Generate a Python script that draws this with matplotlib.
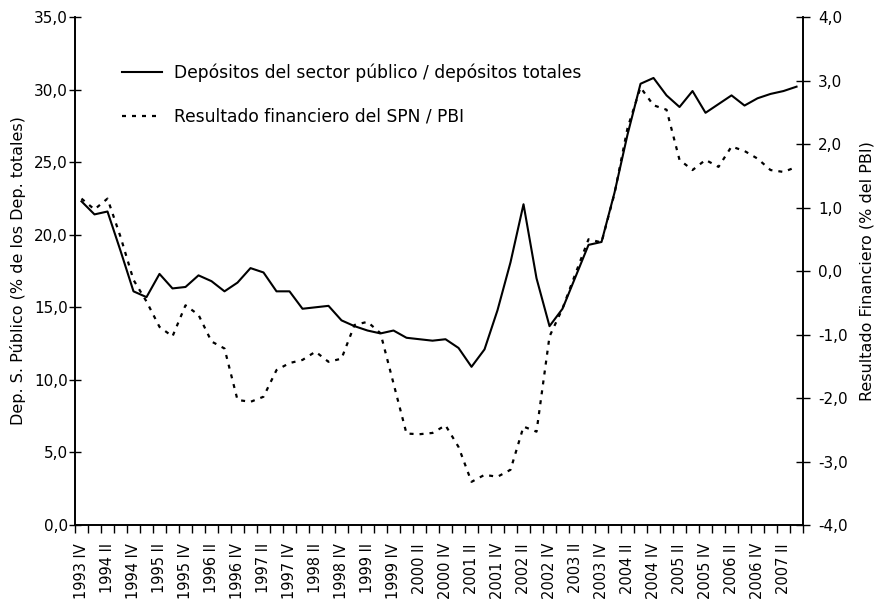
import numpy as np
import matplotlib
matplotlib.use("Agg")
import matplotlib.pyplot as plt

# quarters 1993 IV .. 2007 III
years = list(range(1993, 2008))
quarters = []
for y in years:
    for q in ["I", "II", "III", "IV"]:
        quarters.append(f"{y} {q}")
quarters = quarters[quarters.index("1993 IV"):quarters.index("2007 III") + 1]

# Depósitos del sector público / depósitos totales (%)
depositos = [22.3, 21.4, 21.6, 18.9, 16.1, 15.7, 17.3, 16.3, 16.4, 17.2,
             16.8, 16.1, 16.7, 17.7, 17.4, 16.1, 16.1, 14.9, 15.0, 15.1,
             14.1, 13.7, 13.4, 13.2, 13.4, 12.9, 12.8, 12.7, 12.8, 12.2,
             10.9, 12.1, 14.8, 18.1, 22.1, 17.0, 13.7, 14.9, 17.1, 19.3,
             19.5, 22.9, 26.9, 30.4, 30.8, 29.6, 28.8, 29.9, 28.4, 29.0,
             29.6, 28.9, 29.4, 29.7, 29.9, 30.2]

# Resultado financiero del SPN / PBI (%)
resultado = [1.14, 0.97, 1.14, 0.54, -0.14, -0.48, -0.88, -1.03, -0.54, -0.69,
             -1.11, -1.22, -2.03, -2.06, -1.98, -1.56, -1.45, -1.40, -1.27, -1.43,
             -1.38, -0.85, -0.80, -0.98, -1.77, -2.56, -2.57, -2.55, -2.43, -2.77,
             -3.32, -3.21, -3.24, -3.13, -2.45, -2.53, -1.03, -0.59, -0.04, 0.50,
             0.45, 1.22, 2.25, 2.89, 2.61, 2.54, 1.75, 1.59, 1.75, 1.64,
             1.96, 1.89, 1.77, 1.59, 1.56, 1.64]

plt.rcParams['font.family'] = ['DejaVu Sans']
fig = plt.figure(figsize=(8.76, 6.05), dpi=100)
ax = fig.add_axes([0.0856, 0.1322, 0.8311, 0.8397])
ax2 = ax.twinx()

x = np.arange(len(quarters))
l1, = ax.plot(x, depositos, color='black', lw=1.5)
l2, = ax2.plot(x, resultado, color='black', lw=1.6, linestyle=(0, (1.8, 2.7)))

ax.set_xlim(-0.5, len(quarters) - 0.5)
ax.set_ylim(0, 35)
ax2.set_ylim(-4, 4)

# ticks between categories, labels every two quarters
ax.set_xticks(np.arange(-0.5, len(quarters)))
ax.set_xticklabels([])
ax.set_xticks(x[::2], minor=True)
ax.set_xticklabels(quarters[::2], minor=True, rotation=90, fontsize=10.5)
ax.tick_params(axis='x', which='major', direction='out', length=6, width=1)
ax.tick_params(axis='x', which='minor', length=0, pad=13)

ax.set_yticks(np.arange(0, 36, 5))
ax.set_yticklabels([f"{v:.1f}".replace('.', ',') for v in np.arange(0, 36, 5)], fontsize=11)
ax2.set_yticks(np.arange(-4, 5, 1))
ax2.set_yticklabels([f"{v:.1f}".replace('.', ',') for v in np.arange(-4, 5, 1)], fontsize=11)
ax.tick_params(axis='y', direction='inout', length=8, width=1, pad=1)
ax2.tick_params(axis='y', direction='inout', length=10, width=1, pad=6)

for a in (ax, ax2):
    a.spines['top'].set_visible(False)
    for s in a.spines.values():
        s.set_linewidth(1.2)

ax.set_ylabel("Dep. S. Público (% de los Dep. totales)", fontsize=11.5, labelpad=6)
ax2.set_ylabel("Resultado Financiero (% del PBI)", fontsize=11.5, labelpad=8)

ax.legend([l1, l2],
          ["Depósitos del sector público / depósitos totales",
           "Resultado financiero del SPN / PBI"],
          loc='upper left', bbox_to_anchor=(0.044, 0.938), frameon=False,
          fontsize=12.3, handlelength=2.3, handletextpad=0.7, labelspacing=1.5)

fig.savefig("out.png", dpi=100)
